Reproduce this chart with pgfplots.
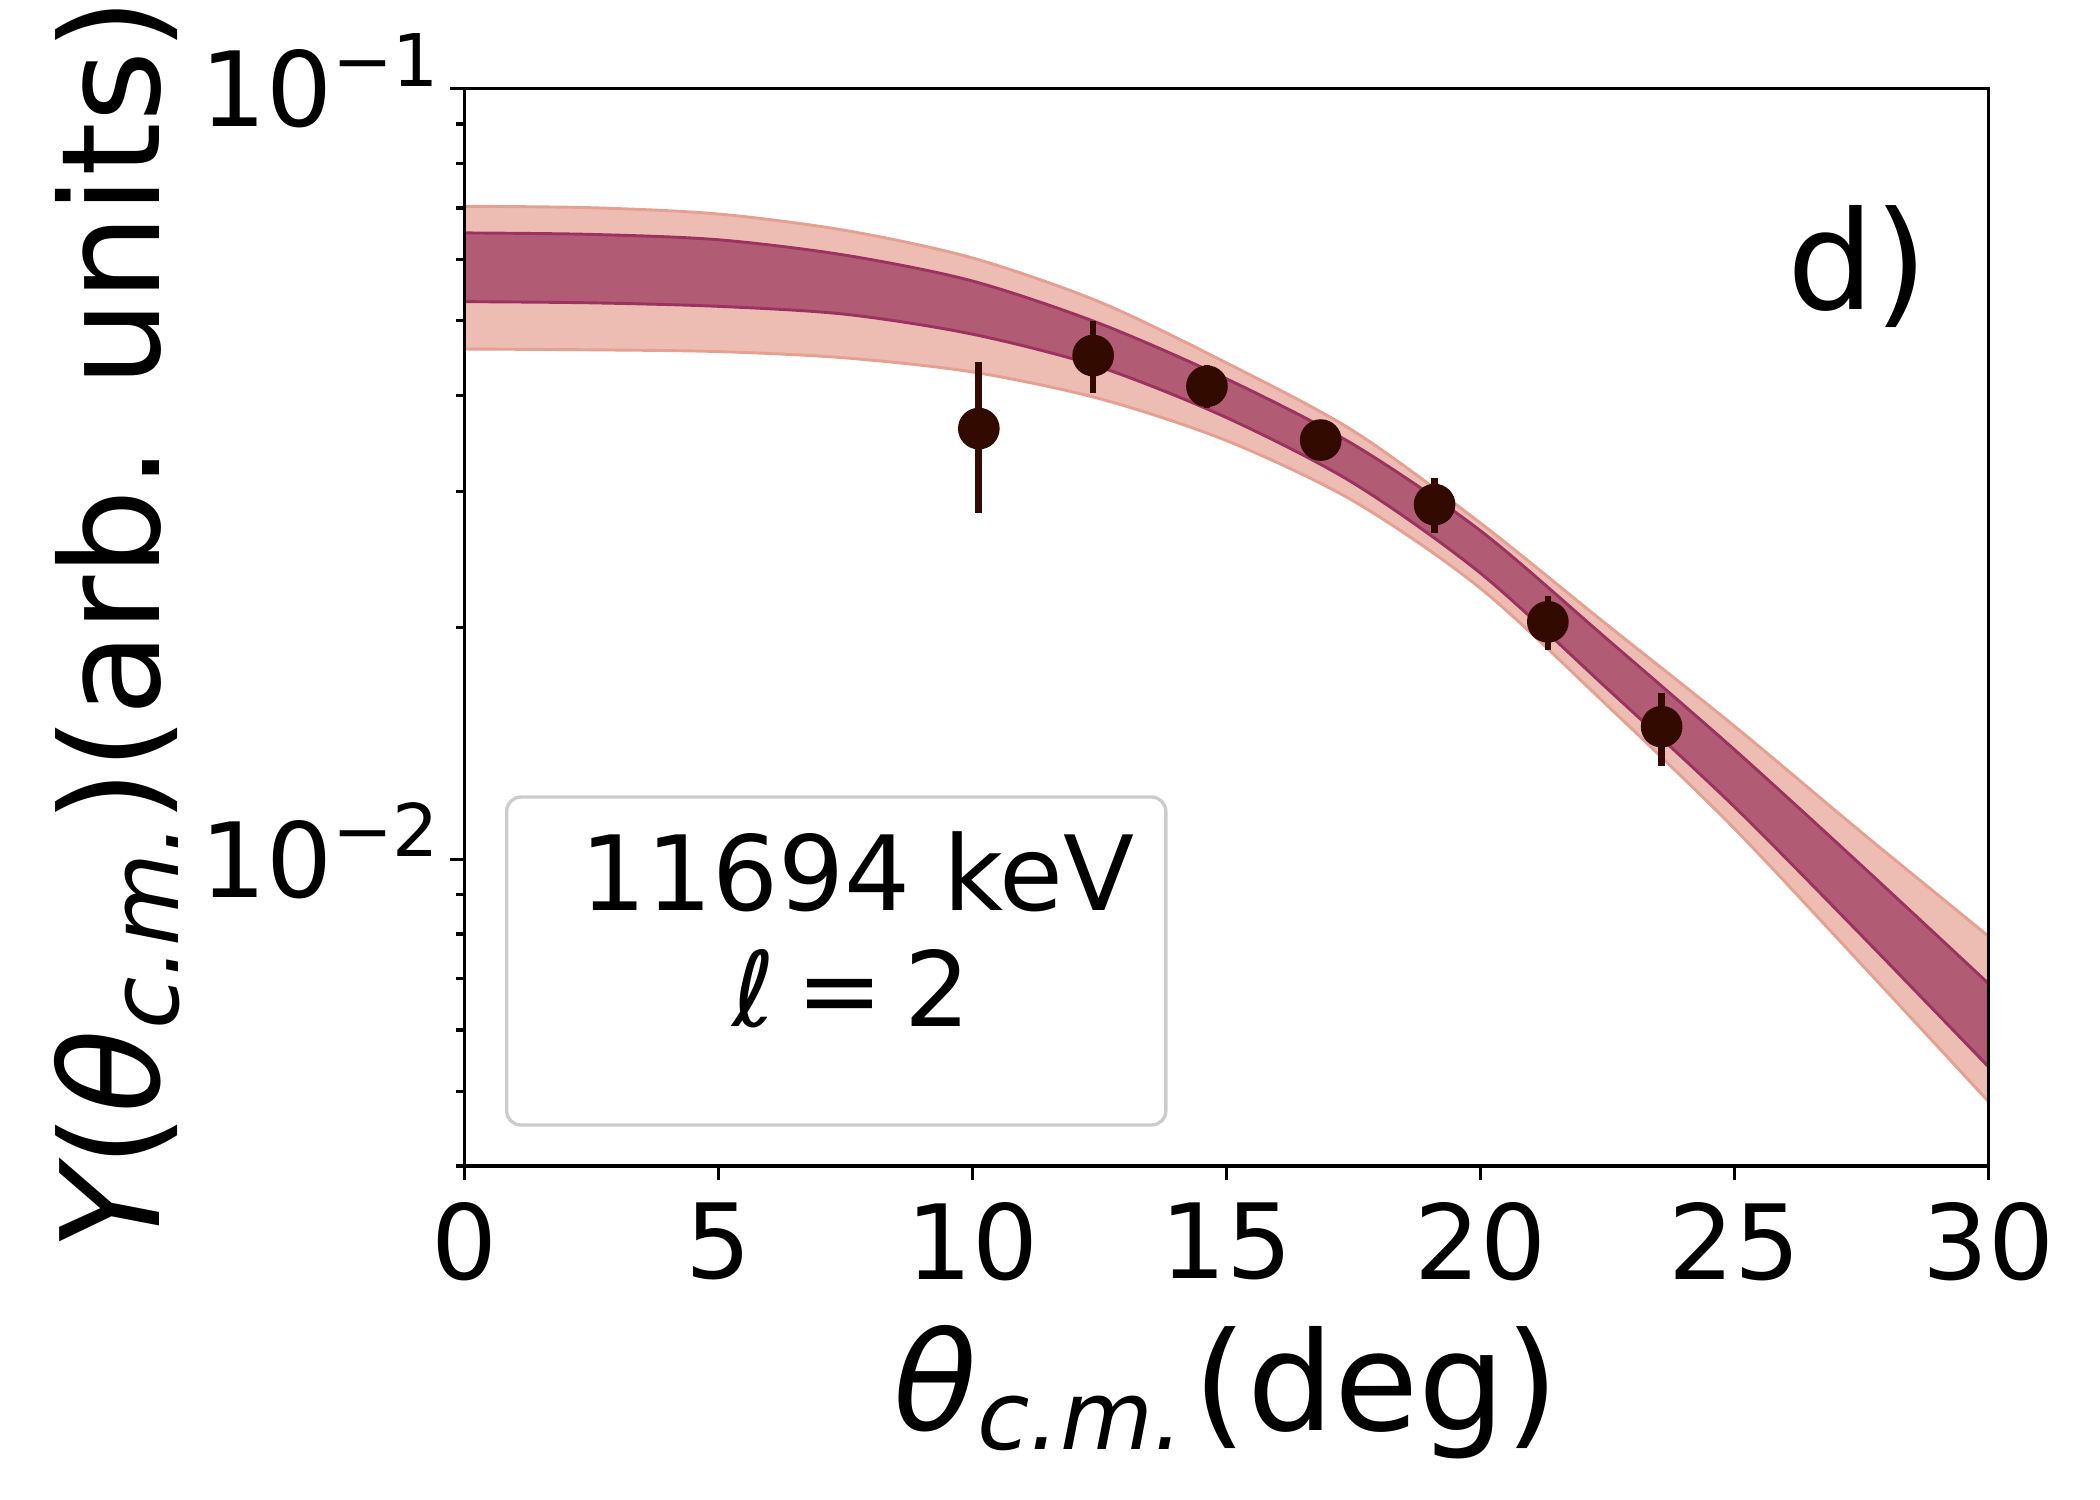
\documentclass[border=0pt]{standalone}
\usepackage{fontspec}
\setmainfont{DejaVu Sans}
\usepackage{pgfplots}
\usepackage{pgfplotstable}
\pgfplotsset{compat=1.18}
\usepgfplotslibrary{fillbetween}
\definecolor{outerfill}{RGB}{237,189,180}
\definecolor{outeredge}{RGB}{229,160,146}
\definecolor{innerfill}{RGB}{177,91,117}
\definecolor{inneredge}{RGB}{155,50,95}
\definecolor{ptcol}{RGB}{51,10,0}
\definecolor{legedge}{RGB}{204,204,204}
\newcommand{\tickfont}{\fontsize{25}{25}\selectfont}
\newcommand{\labfont}{\fontsize{33}{33}\selectfont}
\newcommand{\tenpow}[1]{10\raisebox{9.7bp}{\fontsize{17.5}{17.5}\selectfont −#1}}

\pgfplotstableread{
x ou iu il ol
0 0.07038 0.06500 0.05293 0.04594
2.5 0.07008 0.06471 0.05274 0.04583
5 0.06878 0.06368 0.05219 0.04559
7.5 0.06549 0.06081 0.05097 0.04474
10 0.06032 0.05630 0.04803 0.04290
12.5 0.05290 0.04960 0.04355 0.03962
15 0.04409 0.04204 0.03744 0.03495
17.5 0.03597 0.03455 0.03078 0.02918
20 0.02732 0.02670 0.02352 0.02248
22.5 0.02014 0.01930 0.01665 0.01583
25 0.01489 0.01388 0.01170 0.01096
27.5 0.01084 0.00982 0.00797 0.00731
30 0.00795 0.00690 0.00538 0.00485
}\band

\pgfplotstableread{
x y ep em
10.13 0.03622 0.00800 0.00808
12.38 0.04505 0.00490 0.00482
14.62 0.04110 0.00274 0.00260
16.86 0.03500 0.00120 0.00120
19.10 0.02886 0.00240 0.00238
21.33 0.02033 0.00164 0.00163
23.57 0.01486 0.00158 0.00165
}\data

\begin{document}
\begin{tikzpicture}
\begin{axis}[
  at={(0,0)}, anchor=south west,
  scale only axis, width=365.8bp, height=258.5bp,
  xmin=0, xmax=30, ymin=0.004, ymax=0.1, ymode=log,
  xtick={0,5,...,30},
  ytick={0.01,0.1}, yticklabels={\tenpow{2},\tenpow{1}},
  minor ytick={0.004,0.005,0.006,0.007,0.008,0.009,0.02,0.03,0.04,0.05,0.06,0.07,0.08,0.09},
  axis line style={line width=0.8bp},
  tick style={line width=0.8bp, black},
  major tick length=3.5bp, minor tick length=2bp,
  tick align=outside, tick pos=left,
  xticklabel style={anchor=north, inner sep=0pt, yshift=-5.2bp, font=\tickfont},
  yticklabel style={anchor=base east, inner sep=0pt, xshift=-2.3bp, yshift=-9.1bp, font=\tickfont},
  /pgf/number format/assume math mode=true,
  axis on top,
]
\addplot[draw=none, name path=OU, smooth] table[x=x,y=ou]{\band};
\addplot[draw=none, name path=OL, smooth] table[x=x,y=ol]{\band};
\addplot[fill=outerfill, draw=outeredge, line width=0.7bp] fill between[of=OU and OL];
\addplot[draw=none, name path=IU, smooth] table[x=x,y=iu]{\band};
\addplot[draw=none, name path=IL, smooth] table[x=x,y=il]{\band};
\addplot[fill=innerfill, draw=inneredge, line width=0.7bp] fill between[of=IU and IL];
\addplot[only marks, mark=*, mark size=4.8bp, color=ptcol, mark options={fill=ptcol, draw=ptcol},
  error bars/.cd, y dir=both, y explicit, error mark=none,
  error bar style={line width=1.6bp, ptcol}]
  table[x=x, y=y, y error plus=ep, y error minus=em]{\data};
\end{axis}
\draw[legedge, line width=0.8bp, rounded corners=3.4bp, fill=white] (10.2bp,9.8bp) rectangle (168.4bp,88.5bp);
\node[anchor=base, font=\tickfont, inner sep=0pt] at (94.4bp,61.3bp) {11694 keV};
\node[anchor=base, font=\tickfont, inner sep=0pt] at (93bp,33.4bp) {{\itshape ℓ}\hspace{5bp}=\hspace{5bp}2};
\node[anchor=base, font=\labfont, inner sep=0pt] at (334.5bp,205.5bp) {d)};
\node[anchor=base, font=\labfont, inner sep=0pt] at (182.9bp,-63.6bp) {{\itshape θ}\raisebox{-4.4bp}{\fontsize{23}{23}\selectfont\itshape c.m.}\hspace{2.5bp}(deg)};
\node[anchor=base, rotate=90, font=\labfont, inner sep=0pt] at (-73bp,130bp) {{\itshape Y}({\itshape θ}\raisebox{-4.4bp}{\fontsize{23}{23}\selectfont\itshape c.m.})(arb. units)};
\pgfresetboundingbox
\useasboundingbox (-111.4bp,-80.2bp) rectangle (392.6bp,279.8bp);
\end{tikzpicture}
\end{document}
